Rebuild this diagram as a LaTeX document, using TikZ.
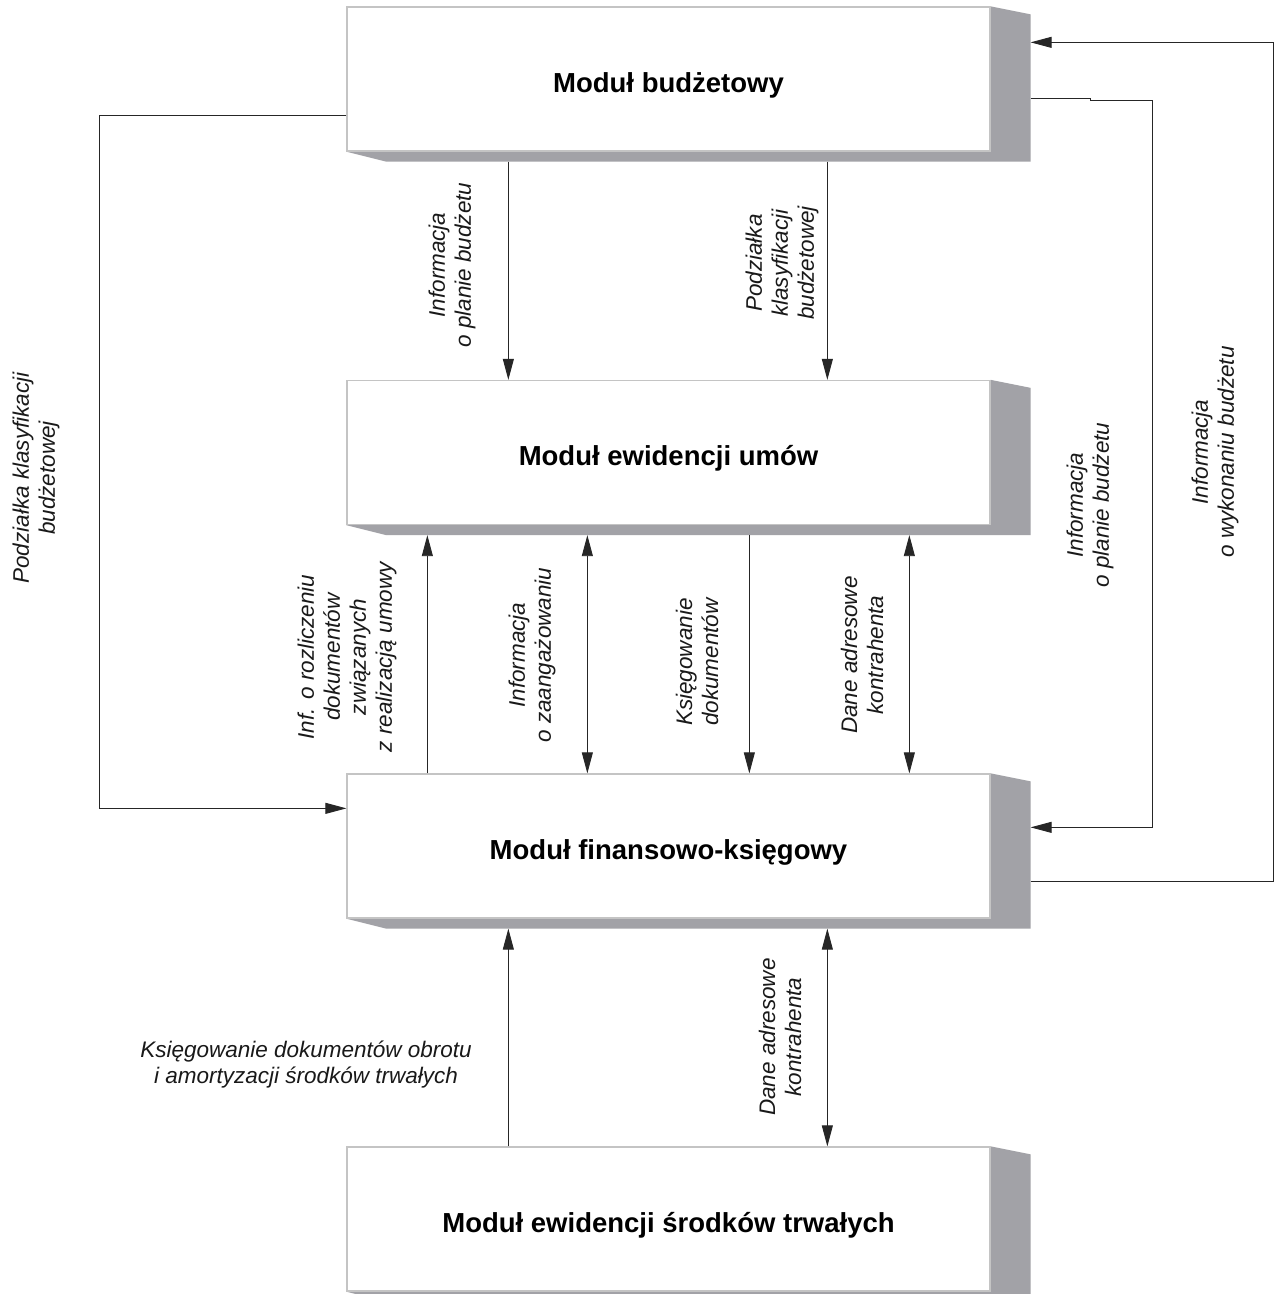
\documentclass[tikz,border=0pt]{standalone}
\usepackage{fontspec}
\setmainfont{Liberation Sans}
\usetikzlibrary{arrows.meta,backgrounds,calc}
\definecolor{shadowc}{HTML}{A2A2A7}
\definecolor{framec}{HTML}{C4C4C4}
\definecolor{linec}{HTML}{262626}
\begin{document}
\begin{tikzpicture}[x=1pt,y=-1pt,
  modbox/.style={draw=framec,line width=1.3pt,fill=white,minimum width=643pt,minimum height=144pt,inner sep=0pt,
    text height=26pt,text depth=0pt,
    font=\bfseries\fontsize{27.5}{32}\selectfont},
  lab/.style={font=\itshape\fontsize{22.5}{26}\selectfont,align=center,inner sep=0pt,text=black!90},
  rlab/.style={lab,rotate=90},
  conn/.style={draw=linec,line width=0.9pt},
  arr/.style={conn,-{Triangle[width=11pt,length=21pt]}},
  darr/.style={conn,{Triangle[width=11pt,length=21pt]}-{Triangle[width=11pt,length=21pt]}}]
\useasboundingbox (0,0) rectangle (1276,1294);

% modules
\node[modbox] (b1) at (668.5,79) {Moduł budżetowy};
\node[modbox] (b2) at (668.5,452.5) {Moduł ewidencji umów};
\node[modbox] (b3) at (668.5,846) {Moduł finansowo-księgowy};
\node[modbox] (b4) at (668.5,1219) {Moduł ewidencji środków trwałych};

\begin{scope}[on background layer]
  \fill[white] (0,0) rectangle (1276,1294);
  \foreach \b in {b1,b2,b3,b4}{
    \fill[shadowc] (\b.north east) -- ++(40,8) -- ([shift={(40,10)}]\b.south east)
      -- ([shift={(40,10)}]\b.south west) -- (\b.south west) -- (\b.south east) -- cycle;
  }
\end{scope}

% box1 -> box2
\draw[arr] ([shift={(162,10)}]b1.south west) -- ([shift={(162,0)}]b2.north west);
\draw[arr] ([shift={(481,10)}]b1.south west) -- ([shift={(481,0)}]b2.north west);

% box2 <-> box3
\draw[arr] ([shift={(81,0)}]b3.north west) -- ([shift={(81,10)}]b2.south west);
\draw[darr] ([shift={(241,10)}]b2.south west) -- ([shift={(241,0)}]b3.north west);
\draw[arr] ([shift={(403,10)}]b2.south west) -- ([shift={(403,0)}]b3.north west);
\draw[darr] ([shift={(563,10)}]b2.south west) -- ([shift={(563,0)}]b3.north west);

% box3 <-> box4
\draw[arr] ([shift={(162,0)}]b4.north west) -- ([shift={(162,10)}]b3.south west);
\draw[darr] ([shift={(481,10)}]b3.south west) -- ([shift={(481,0)}]b4.north west);

% left loop: box1 -> box3
\draw[arr] ([shift={(0,109)}]b1.north west) -- ++(-247,0) |- ([shift={(0,35)}]b3.north west);

% right loops
\draw[arr] ([shift={(40,92)}]b1.north east) -- ++(60,0) -- ++(0,2) -- ++(62,0) |- ([shift={(40,54)}]b3.north east);
\draw[arr] ([shift={(40,108)}]b3.north east) -- ++(243,0) |- ([shift={(40,36)}]b1.north east);

% labels
\node[rlab] (l1) at (452,265) {Informacja\\o planie budżetu};
\node[rlab] (l2) at (782,263) {Podziałka\\klasyfikacji\\budżetowej};
\node[rlab] (l3) at (36,478) {Podziałka klasyfikacji\\budżetowej};
\node[rlab] (l4) at (347,657) {Inf. o rozliczeniu\\dokumentów\\związanych\\z realizacją umowy};
\node[rlab] (l5) at (532,655) {Informacja\\o zaangażowaniu};
\node[rlab] (l6) at (697,662) {Księgowanie\\dokumentów};
\node[rlab] (l7) at (862,655) {Dane adresowe\\kontrahenta};
\node[rlab] (l8) at (1090,505) {Informacja\\o planie budżetu};
\node[rlab] (l9) at (1215,452) {Informacja\\o wykonaniu budżetu};
\node[lab] (l10) at (306,1065) {Księgowanie dokumentów obrotu\\i amortyzacji środków trwałych};
\node[rlab] (l11) at (780,1037) {Dane adresowe\\kontrahenta};
\end{tikzpicture}
\end{document}
